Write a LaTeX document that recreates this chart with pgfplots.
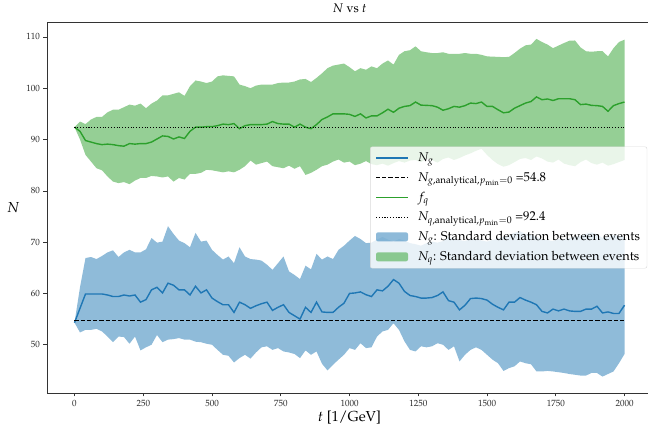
\documentclass[border=0pt]{standalone}
\usepackage[T1]{fontenc}
\usepackage{mathpazo}
\usepackage{pgfplots}
\pgfplotsset{compat=1.18}
\usepackage{pgfplotstable}
\usepgfplotslibrary{fillbetween}

\definecolor{tabblue}{HTML}{1F77B4}
\definecolor{tabgreen}{HTML}{2CA02C}

% gluon multiplicity: mean and mean +/- one standard deviation
\pgfplotstableread{
t    mean  up    lo
0    54.3  54.3  54.3
20   57.1  61.2  52.4
40   59.9  66.9  52.9
60   59.9  67.1  52.9
80   59.9  66.7  53.1
100  59.9  67.3  52.6
120  59.7  68.0  51.6
140  59.4  68.4  50.5
160  59.4  67.1  51.6
180  59.7  68.0  51.5
200  59.5  68.5  50.2
220  59.7  68.0  51.6
240  58.3  68.0  48.9
260  58.8  68.6  49.5
280  60.7  70.8  50.0
300  61.2  69.9  51.9
320  60.1  70.1  50.5
340  62.0  73.1  51.0
360  61.6  71.6  51.1
380  60.7  70.3  51.3
400  60.7  69.8  51.0
420  59.7  69.0  51.0
440  61.4  71.8  50.6
460  60.1  70.1  50.5
480  60.7  70.3  50.2
500  59.1  68.5  50.0
520  58.4  67.5  49.0
540  57.8  66.6  48.05
560  57.8  67.2  47.85
580  56.3  65.9  46.55
600  58.3  69.0  47.4
620  57.8  67.2  48.05
640  57.1  66.7  47.3
660  57.6  66.6  48.5
680  58.0  66.4  49.5
700  58.3  65.6  49.7
720  56.7  64.6  49.0
740  57.3  65.9  49.35
760  57.8  67.2  48.7
780  56.3  64.3  48.5
800  55.65 63.6  48.2
820  55.0  62.8  47.4
840  57.3  65.4  48.9
860  56.3  64.7  48.05
880  58.3  67.7  48.7
900  56.4  66.6  46.3
920  56.3  67.2  45.0
940  56.3  66.7  46.1
960  57.3  68.5  47.1
980  58.1  69.3  48.05
1000 60.0  70.3  49.35
1020 60.1  71.2  49.0
1040 60.3  70.6  50.3
1060 59.75 69.8  49.35
1080 59.4  69.9  49.5
1100 60.7  70.5  51.6
1120 60.5  71.0  52.6
1140 61.4  70.5  52.9
1160 62.7  70.1  54.2
1180 62.0  70.6  52.9
1200 60.4  70.3  50.65
1220 59.6  69.8  49.0
1240 59.4  69.6  48.7
1260 59.1  69.3  49.7
1280 59.1  69.8  49.5
1300 59.2  70.1  49.7
1320 59.6  69.9  50.3
1340 60.3  70.2  50.0
1360 58.6  71.0  49.0
1380 58.3  70.6  49.7
1400 56.8  70.4  46.75
1420 57.7  70.2  48.05
1440 59.0  70.6  49.0
1460 59.1  70.6  49.5
1480 59.0  70.3  49.0
1500 58.7  70.1  48.05
1520 57.9  70.4  47.1
1540 57.3  70.7  46.4
1560 56.8  71.0  44.9
1580 58.3  71.3  45.45
1600 58.3  71.8  45.8
1620 59.2  72.1  46.75
1640 58.7  71.6  46.4
1660 58.3  71.4  46.2
1680 57.8  71.0  44.8
1700 56.5  70.5  44.8
1720 56.2  70.4  44.9
1740 56.95 70.2  44.8
1760 56.6  70.6  44.65
1780 56.95 70.6  44.5
1800 56.6  70.8  44.3
1820 56.5  71.0  44.15
1840 56.5  71.3  44.0
1860 56.95 71.6  44.0
1880 56.95 71.9  44.5
1900 57.5  71.5  44.5
1920 56.2  70.8  43.8
1940 56.4  71.0  44.3
1960 56.1  71.4  44.8
1980 56.1  71.2  46.4
2000 57.7  71.0  48.2
}\gluontab

% quark multiplicity: mean and mean +/- one standard deviation
\pgfplotstableread{
t    mean  up     lo
0    92.4  92.4   92.4
20   91.6  93.5   90.0
40   89.8  93.0   87.0
60   89.5  93.9   85.7
80   89.2  94.4   84.4
100  89.0  94.4   84.0
120  89.1  95.3   82.8
140  89.0  95.8   81.8
160  88.8  95.8   81.5
180  88.7  96.3   81.7
200  89.2  96.8   81.3
220  89.1  96.6   82.0
240  89.2  97.0   82.5
260  89.2  96.1   82.5
280  89.5  97.0   82.9
300  90.1  97.6   82.8
320  90.7  98.6   82.6
340  90.6  98.6   82.8
360  90.1  98.9   81.8
380  90.5  99.2   82.5
400  90.2  98.5   82.2
420  91.6  100.4  83.3
440  92.4  101.5  83.3
460  92.4  101.3  83.5
480  92.5  101.0  84.1
500  92.5  101.3  84.0
520  92.7  102.3  83.8
540  93.0  102.5  83.6
560  92.9  102.4  83.8
580  93.1  102.3  83.6
600  92.1  100.7  84.1
620  92.7  100.4  84.8
640  92.9  100.0  85.9
660  92.9  100.5  85.1
680  92.9  100.7  85.4
700  93.0  100.7  85.7
720  93.5  100.7  84.8
740  93.1  101.0  84.6
760  93.0  101.1  84.4
780  93.0  101.1  84.9
800  92.4  101.3  84.3
820  93.0  101.7  84.8
840  92.4  101.8  83.1
860  92.1  101.2  83.5
880  92.9  102.0  84.1
900  93.9  102.9  84.8
920  94.4  103.9  85.1
940  95.0  104.4  85.7
960  95.0  104.6  86.1
980  95.0  104.8  85.5
1000 94.9  104.1  85.7
1020 94.5  103.3  85.0
1040 95.0  103.9  85.3
1060 94.2  103.6  85.8
1080 94.6  104.25 85.2
1100 94.6  103.9  85.0
1120 95.2  104.8  85.3
1140 95.9  105.4  84.9
1160 95.3  104.6  85.4
1180 96.1  106.5  85.8
1200 96.45 107.2  85.5
1220 96.6  107.4  85.9
1240 97.3  108.15 86.0
1260 96.7  107.2  85.6
1280 96.65 107.0  86.3
1300 96.6  106.85 86.0
1320 96.3  106.85 85.5
1340 95.7  107.0  86.2
1360 96.0  106.7  86.5
1380 96.45 106.7  86.0
1400 96.3  106.7  86.4
1420 96.6  106.85 86.9
1440 97.1  106.7  87.3
1460 97.0  106.7  87.8
1480 97.3  106.5  88.2
1500 96.45 106.2  87.0
1520 96.45 106.15 86.0
1540 95.8  106.1  85.2
1560 95.2  106.05 84.7
1580 95.35 106.1  85.0
1600 96.1  106.85 85.6
1620 96.6  107.7  86.2
1640 97.1  108.35 86.4
1660 97.4  108.5  86.0
1680 98.3  109.6  86.7
1700 97.75 109.0  86.3
1720 97.9  108.5  85.7
1740 97.6  107.8  85.5
1760 97.95 108.3  86.1
1780 97.95 108.8  85.3
1800 97.95 109.25 85.0
1820 97.75 109.3  84.8
1840 96.8  107.95 85.6
1860 96.9  107.2  86.1
1880 96.65 107.1  85.4
1900 96.6  107.2  85.1
1920 96.45 107.2  85.5
1940 95.5  106.2  84.9
1960 96.6  107.8  85.2
1980 97.0  109.0  85.6
2000 97.3  109.45 86.0
}\quarktab

\pgfplotsset{
  longline/.style={legend image code/.code={\draw[##1] (0pt,0pt) -- (32pt,0pt);}},
  longarea/.style={legend image code/.code={\fill[##1] (0pt,-4.5pt) rectangle (32pt,4.5pt);}},
}

\begin{document}
\begin{tikzpicture}
\begin{axis}[
  scale only axis, width=605pt, height=371pt,
  xmin=-100, xmax=2100, ymin=40.6, ymax=112.9,
  xtick={0,250,...,2000}, ytick={50,60,...,110},
  tick align=outside, tick pos=left, major tick length=3.5pt,
  tick style={black!80, line width=0.6pt},
  axis line style={black!80, line width=0.8pt},
  ticklabel style={font=\fontsize{9}{10}\selectfont, text=black!85},
  /pgf/number format/1000 sep={},
  xlabel={$t$ [1/GeV]}, ylabel={$N$},
  label style={font=\fontsize{14.5}{16}\selectfont},
  xlabel style={yshift=2pt},
  ylabel style={rotate=-90},
  title={$N$ vs $t$}, title style={font=\fontsize{12.5}{14}\selectfont},
  legend cell align=left,
  legend style={at={(rel axis cs:0.992,0.5)}, anchor=east, draw=black!15,
    fill=white, fill opacity=0.8, text opacity=1, rounded corners=2pt,
    font=\fontsize{12.8}{14}\selectfont, inner xsep=5pt, inner ysep=4pt,
    nodes={fill=none}, row sep=5.2pt,
    /tikz/every odd column/.append style={column sep=7pt}},
]
% bands of one standard deviation
\addplot[name path=gup, draw=none, forget plot] table[x=t, y=up] {\quarktab};
\addplot[name path=glo, draw=none, forget plot] table[x=t, y=lo] {\quarktab};
\addplot[fill=tabgreen, fill opacity=0.5, draw=none, forget plot] fill between[of=gup and glo];
\addplot[name path=bup, draw=none, forget plot] table[x=t, y=up] {\gluontab};
\addplot[name path=blo, draw=none, forget plot] table[x=t, y=lo] {\gluontab};
\addplot[fill=tabblue, fill opacity=0.5, draw=none, forget plot] fill between[of=bup and blo];

% means and analytical values
\addplot[tabblue, line width=1.4pt, longline] table[x=t, y=mean] {\gluontab};
\addlegendentry{$N_g$}
\addplot[black, line width=1.1pt, dash pattern=on 4.2pt off 2pt, longline] coordinates {(0,54.8) (2000,54.8)};
\addlegendentry{$N_{g,\mathrm{analytical},p_{\mathrm{min}}=0}$ =54.8}
\addplot[tabgreen, line width=1.4pt, longline] table[x=t, y=mean] {\quarktab};
\addlegendentry{$f_q$}
\addplot[black, line width=1.1pt, dash pattern=on 1.1pt off 1.7pt, longline] coordinates {(0,92.4) (2000,92.4)};
\addlegendentry{$N_{q,\mathrm{analytical},p_{\mathrm{min}}=0}$ =92.4}
\addlegendimage{longarea, fill=tabblue, fill opacity=0.5, draw=none}
\addlegendentry{$N_g$: Standard deviation between events}
\addlegendimage{longarea, fill=tabgreen, fill opacity=0.5, draw=none}
\addlegendentry{$N_q$: Standard deviation between events}
\end{axis}
\pgfresetboundingbox
\path[use as bounding box] ([xshift=-47pt,yshift=-34pt]current axis.south west)
  rectangle ([xshift=-4pt,yshift=22pt]current axis.north east);
\end{tikzpicture}
\end{document}
